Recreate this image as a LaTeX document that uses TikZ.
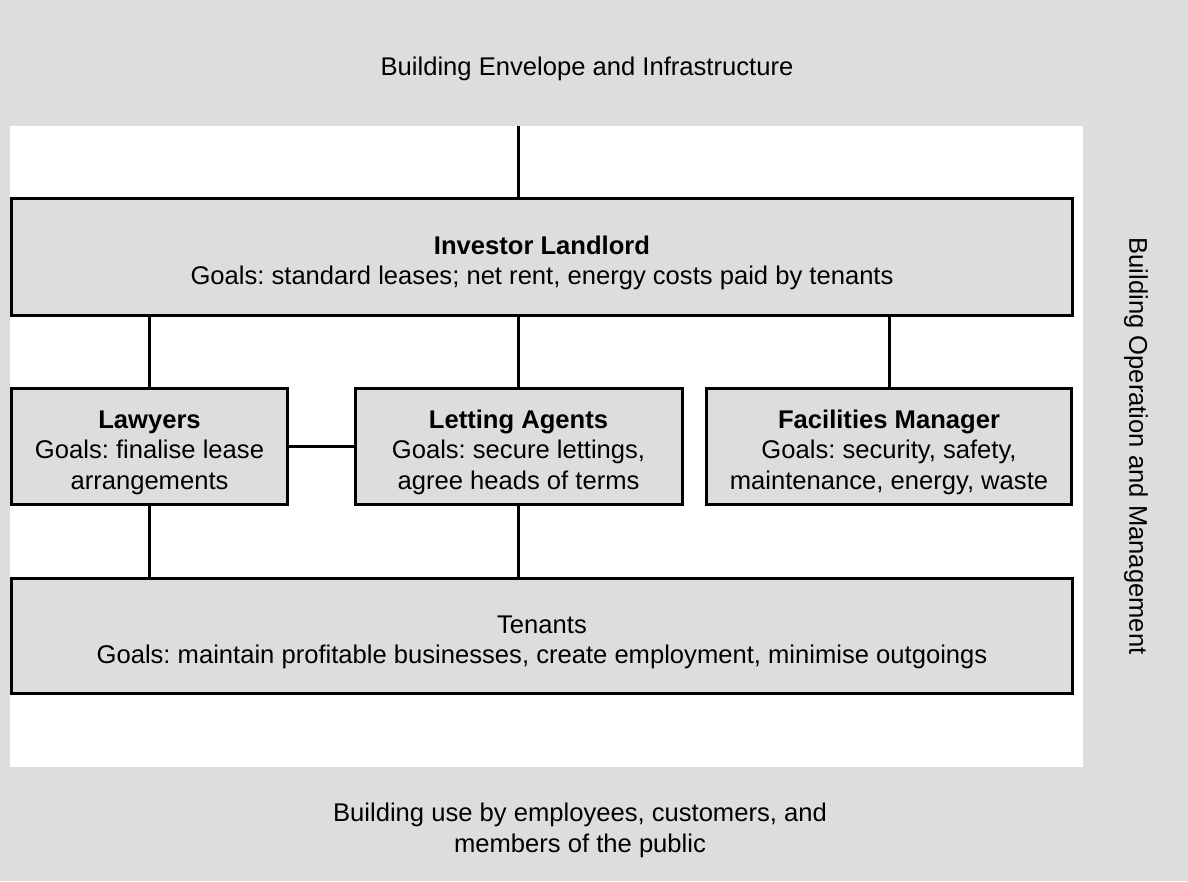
\documentclass[tikz,border=0pt]{standalone}
\usepackage{fontspec}
\setmainfont{Liberation Sans}
\frenchspacing
\usetikzlibrary{calc}
\definecolor{panelgray}{RGB}{221,221,221}
\newcommand{\padtop}{\rule{0pt}{30pt}}
\tikzset{
  actor/.style={draw=black, line width=3pt, fill=panelgray, align=center,
    inner sep=0pt, font=\fontsize{25.6}{30.5}\selectfont},
  zonetext/.style={align=center, inner sep=0pt, font=\fontsize{25.6}{31}\selectfont},
  link/.style={line width=3pt}
}
\begin{document}
\begin{tikzpicture}[x=1pt,y=-1pt]
    \useasboundingbox (0,0) rectangle (1188,881);
    \fill[panelgray] (0,0) rectangle (1188,881);
    \fill[white] (10,126) rectangle (1083,767);
    \coordinate (E) at (587,69);
    \coordinate (L) at (542,257);
    \coordinate (W) at (149.5,446.5);
    \coordinate (A) at (518.5,446.5);
    \coordinate (F) at (889,446.5);
    \coordinate (T) at (542,636);
    \coordinate (M) at (1136,446);
    \coordinate (U) at (580,830);
    \coordinate (Etop) at (518.5,126);
    \node[zonetext] (env) at (E) {Building Envelope and Infrastructure};
    \node[zonetext,rotate=-90] (ops) at (M) {Building Operation and Management};
    \node[zonetext] (use) at (U) {Building use by employees, customers, and\\members of the public};
    \node[actor,minimum width=1061pt,minimum height=117pt] (landlord) at (L)
        {\padtop\textbf{Investor Landlord}\\Goals: standard leases; net rent, energy costs paid by tenants};
    \node[actor,minimum width=276pt,minimum height=116pt] (lawyers) at (W)
        {\padtop\textbf{Lawyers}\\Goals: finalise lease\\arrangements};
    \node[actor,minimum width=327pt,minimum height=116pt] (agents) at (A)
        {\padtop\textbf{Letting Agents}\\Goals: secure lettings,\\agree heads of terms};
    \node[actor,minimum width=365pt,minimum height=116pt] (facilities) at (F)
        {\padtop\textbf{Facilities Manager}\\Goals: security, safety,\\maintenance, energy, waste};
    \node[actor,minimum width=1061pt,minimum height=115pt] (tenants) at (T)
        {\padtop Tenants\\Goals: maintain profitable businesses, create employment, minimise outgoings};
    \draw[link] (Etop) -- (Etop |- landlord.north);
    \draw[link] (lawyers.north |- landlord.south) -- (lawyers.north);
    \draw[link] (agents.north |- landlord.south) -- (agents.north);
    \draw[link] (facilities.north |- landlord.south) -- (facilities.north);
    \draw[link] (lawyers.east) -- (agents.west);
    \draw[link] (lawyers.south) -- (lawyers.south |- tenants.north);
    \draw[link] (agents.south) -- (agents.south |- tenants.north);
\end{tikzpicture}
\end{document}
